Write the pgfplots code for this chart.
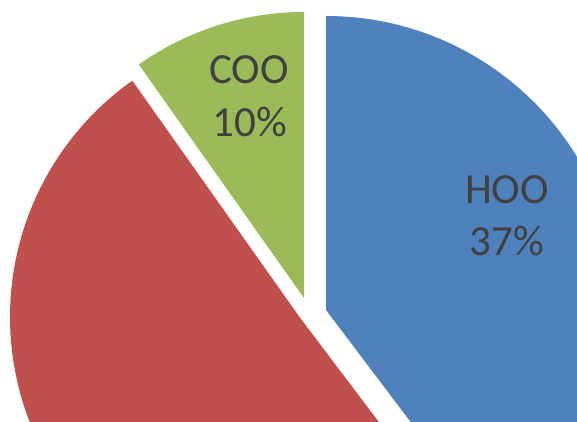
\documentclass[border=0pt]{standalone}
\usepackage{pgfplots}
\pgfplotsset{compat=1.18}
\usepackage{pgfplotstable}
\usepackage{fontspec}
\setmainfont{Carlito}

\definecolor{hoo}{HTML}{4F81BD}
\definecolor{oth}{HTML}{C0504D}
\definecolor{coo}{HTML}{9BBB59}
\definecolor{lbl}{HTML}{404040}

% share (%) as drawn, exploded apex (x,y) and radius, in pt
\pgfplotstableread{
name  value ax    ay   r     col
HOO   39.7  326   111  294   hoo
Other 50.5  299.5 104  289.5 oth
COO   9.8   304   123  286   coo
}\piedata

\begin{document}
\begin{tikzpicture}
	\begin{axis}[
			hide axis,
			x=1pt, y=1pt,
			xmin=0, xmax=577, ymin=0, ymax=421,
			clip=true,
		]
		\def\startang{90}
		\pgfplotsforeachungrouped \i in {0,1,2}{
			\pgfplotstablegetelem{\i}{value}\of\piedata \let\v\pgfplotsretval
			\pgfplotstablegetelem{\i}{ax}\of\piedata \let\ax\pgfplotsretval
			\pgfplotstablegetelem{\i}{ay}\of\piedata \let\ay\pgfplotsretval
			\pgfplotstablegetelem{\i}{r}\of\piedata \let\rr\pgfplotsretval
			\pgfplotstablegetelem{\i}{col}\of\piedata \let\col\pgfplotsretval
			\pgfmathsetmacro\endang{\startang-3.6*\v}
			\edef\doslice{\noexpand\fill[\col] (axis cs:\ax,\ay) -- ++(\startang:\rr pt)
				arc[start angle=\startang, end angle=\endang, radius=\rr pt] -- cycle;}
			\doslice
			\let\startang\endang
		}
		\begin{scope}[every node/.style={anchor=base, text=lbl, font=\fontsize{43}{51}\selectfont}]
			\node at (axis cs:249,337.7) {COO};
			\node at (axis cs:250,284.3) {10\%};
			\node at (axis cs:507,217.7) {HOO};
			\node at (axis cs:507,166) {37\%};
		\end{scope}
	\end{axis}
	\pgfresetboundingbox
	\path (current axis.south west) rectangle (current axis.north east);
\end{tikzpicture}
\end{document}
